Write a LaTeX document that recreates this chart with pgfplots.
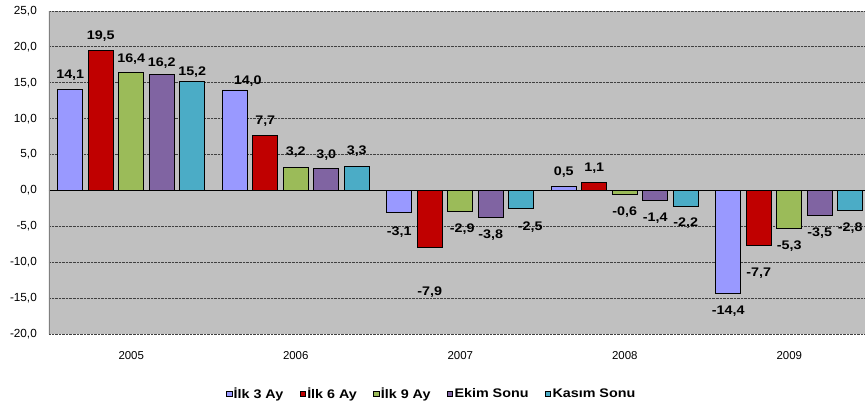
\documentclass[border=0pt]{standalone}
\usepackage{fontspec}
\setmainfont{Liberation Sans}
\newfontfamily\wideb[FakeStretch=1.15]{Liberation Sans}
\usepackage{pgfplots}
\usepackage{pgfplotstable}
\pgfplotsset{compat=1.18}
\definecolor{cA}{HTML}{9999FF}
\definecolor{cB}{HTML}{C00000}
\definecolor{cC}{HTML}{9BBB59}
\definecolor{cD}{HTML}{8064A2}
\definecolor{cE}{HTML}{4BACC6}
\definecolor{bg}{HTML}{C0C0C0}
\pgfplotstableread{
x y dx dy
0 14.1 0 0
1 14.0 13 -5.5
2 -3.1 0 -5
3 0.5 0 0
4 -14.4 0 -3.5
}\tA
\pgfplotstableread{
x y dx dy
0 19.5 0 0
1 7.7 0 0
2 -7.9 0 -31
3 1.1 0 0
4 -7.7 0 -13
}\tB
\pgfplotstableread{
x y dx dy
0 16.4 0 -1
1 3.2 0 1
2 -2.9 2 -4
3 -0.6 0 -3.5
4 -5.3 0 -3.5
}\tC
\pgfplotstableread{
x y dx dy
0 16.2 0 -3.5
1 3.0 0 0
2 -3.8 0 -3
3 -1.4 0 -3.5
4 -3.5 0 -3.5
}\tD
\pgfplotstableread{
x y dx dy
0 15.2 0 -5
1 3.3 0 1.5
2 -2.5 9 -4
3 -2.2 0 -3
4 -2.8 0 -3.5
}\tE
\begin{document}
\begin{tikzpicture}
\useasboundingbox (-49bp,-69bp) rectangle (816bp,334bp);
\clip (-49bp,-69bp) rectangle (816bp,334bp);
\begin{axis}[
 at={(0,0)}, anchor=south west,
 scale only axis, width=822.5bp, height=323bp,
 xmin=-0.5, xmax=4.5, ymin=-20, ymax=25,
 ybar=5.5bp, bar width=25bp,
 axis background/.style={fill=bg},
 axis line style={draw=none},
 ytick={-20,-15,...,25},
 ymajorgrids, grid style={densely dotted, black!75, line width=0.8bp},
 xtick={0,...,4}, xticklabels={2005,2006,2007,2008,2009},
 major tick length=0pt,
 /pgf/number format/fixed,
 /pgf/number format/fixed zerofill,
 /pgf/number format/precision=1,
 /pgf/number format/use comma,
 /pgf/number format/assume math mode=true,
 yticklabel style={font=\fontsize{11.8}{13}\selectfont, inner xsep=4bp, xshift=-8bp},
 xticklabel style={font=\fontsize{11.5}{13}\selectfont, yshift=-14bp},
 every axis plot/.append style={draw=black, line width=0.9bp},
 visualization depends on={\thisrow{dx}\as\dx},
 visualization depends on={\thisrow{dy}\as\dy},
 nodes near coords, nodes near coords align=vertical,
 every node near coord/.append style={font=\wideb\bfseries\fontsize{12.5}{14}\selectfont, inner xsep=1bp, inner ysep=8.5bp, text=black, xshift=\dx*1bp, yshift=\dy*1bp},
 legend columns=5,
 legend style={draw=none, fill=none, at={(0.465,-0.185)}, anchor=center,
   font=\wideb\bfseries\fontsize{12.5}{14}\selectfont,
   nodes={inner xsep=1.5bp},
   /tikz/every even column/.append style={column sep=15bp}},
 legend image code/.code={\draw[#1,draw=black,line width=0.6bp] (0bp,-2.7bp) rectangle (5.4bp,2.7bp);},
]
\addplot[fill=cA] table[x=x,y=y] {\tA};
\addplot[fill=cB] table[x=x,y=y] {\tB};
\addplot[fill=cC] table[x=x,y=y] {\tC};
\addplot[fill=cD] table[x=x,y=y] {\tD};
\addplot[fill=cE] table[x=x,y=y] {\tE};
\legend{İlk 3 Ay, İlk 6 Ay, İlk 9 Ay, Ekim Sonu, Kasım Sonu}
\draw[black, line width=1.8bp] (axis cs:-0.5,0) -- (axis cs:4.5,0);
\draw[black!50, line width=1.3bp] (rel axis cs:0,0) -- (rel axis cs:0,1);
\end{axis}
\end{tikzpicture}
\end{document}
